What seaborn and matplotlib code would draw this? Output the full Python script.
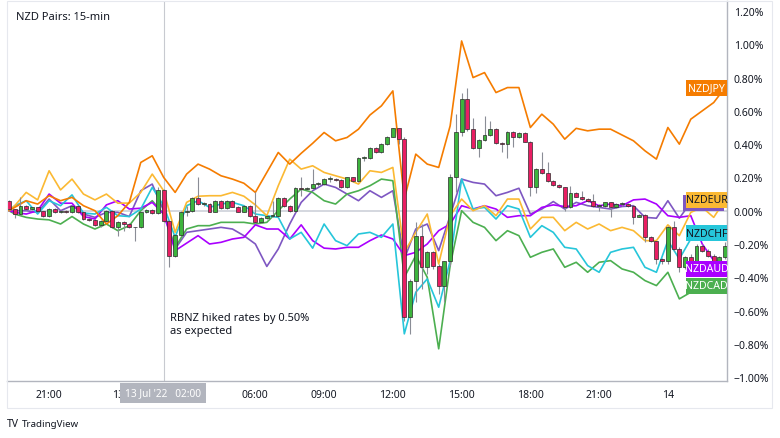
import numpy as np
import pandas as pd
import matplotlib
matplotlib.use("Agg")
import matplotlib.pyplot as plt
import seaborn as sns
from matplotlib.transforms import blended_transform_factory
from matplotlib.patches import Rectangle

sns.set_style("white")
plt.rcParams["font.family"] = ["Noto Sans", "DejaVu Sans"]

# ---------------- data ----------------
# NZDUSD main series, 15-min candles from 12 Jul 19:15 (hours relative to 13 Jul 00:00)
start_hour = -4.75
candle_step = 0.25
first_open = 0.06
usd_close = [0.01, -0.02, 0.03, 0.01, 0.02, 0.00, -0.03, 0.01, -0.01, 0.00,
             -0.01, 0.03, -0.01, -0.05, -0.055, -0.085, -0.06, 0.00, -0.10, -0.065,
             -0.08, -0.10, -0.10, -0.01, 0.005, -0.015, 0.125, -0.06, -0.275, -0.145,
             -0.005, 0.00, 0.075, 0.04, 0.04, -0.005, 0.06, 0.015, 0.06, 0.025,
             -0.005, 0.03, -0.03, -0.07, -0.045, -0.03, -0.03, 0.075, 0.03, 0.00,
             0.135, 0.13, 0.135, 0.16, 0.16, 0.19, 0.19, 0.185, 0.14, 0.20,
             0.18, 0.315, 0.315, 0.375, 0.35, 0.40, 0.445, 0.495, 0.43, -0.64,
             -0.42, -0.15, -0.34, -0.25, -0.33, -0.455, -0.305, 0.20, 0.47, 0.67,
             0.49, 0.375, 0.425, 0.455, 0.49, 0.405, 0.40, 0.475, 0.44, 0.465,
             0.415, 0.14, 0.25, 0.225, 0.18, 0.155, 0.14, 0.02, 0.105, 0.085,
             0.07, 0.06, 0.03, 0.03, 0.05, 0.02, 0.04, 0.04, 0.03, -0.035,
             -0.025, -0.16, -0.185, -0.29, -0.30, -0.10, -0.23, -0.34, -0.28, -0.30,
             -0.21, -0.24, -0.27, -0.31, -0.28, -0.21]
usd_high = [0.065, 0.01, 0.08, 0.035, 0.025, 0.02, 0.00, 0.015, 0.015, 0.005,
            0.005, 0.035, 0.035, -0.005, -0.045, -0.05, -0.055, 0.005, 0.005, -0.06,
            -0.06, -0.075, -0.095, -0.005, 0.01, 0.01, 0.14, 0.13, -0.055, -0.14,
            0.00, 0.03, 0.08, 0.20, 0.05, 0.045, 0.065, 0.065, 0.065, 0.065,
            0.03, 0.035, 0.035, 0.11, -0.04, -0.025, 0.06, 0.08, 0.08, 0.035,
            0.14, 0.20, 0.14, 0.25, 0.17, 0.195, 0.21, 0.195, 0.19, 0.205,
            0.205, 0.32, 0.33, 0.38, 0.38, 0.405, 0.45, 0.50, 0.50, 0.44,
            -0.41, -0.07, -0.08, -0.24, -0.24, -0.32, -0.30, 0.22, 0.58, 0.705,
            0.74, 0.56, 0.43, 0.57, 0.54, 0.50, 0.41, 0.48, 0.48, 0.47,
            0.47, 0.42, 0.255, 0.355, 0.295, 0.185, 0.16, 0.145, 0.15, 0.11,
            0.12, 0.075, 0.10, 0.04, 0.055, 0.055, 0.045, 0.05, 0.045, 0.035,
            -0.02, -0.02, -0.155, -0.18, -0.285, -0.09, -0.06, -0.22, -0.27, -0.26,
            -0.20, -0.20, -0.23, -0.26, -0.27, -0.19]
usd_low = [0.005, -0.045, -0.025, 0.005, 0.005, -0.005, -0.035, -0.035, -0.015, -0.015,
           -0.015, -0.015, -0.015, -0.055, -0.06, -0.09, -0.095, -0.065, -0.105, -0.15,
           -0.12, -0.105, -0.18, -0.105, -0.015, -0.02, -0.02, -0.065, -0.34, -0.28,
           -0.15, -0.03, -0.005, 0.035, 0.03, -0.01, -0.01, 0.01, 0.01, 0.02,
           -0.01, -0.01, -0.035, -0.075, -0.075, -0.05, -0.035, -0.035, 0.025, -0.005,
           -0.005, 0.09, 0.125, 0.13, 0.15, 0.155, 0.17, 0.18, 0.135, 0.135,
           0.175, 0.175, 0.30, 0.31, 0.345, 0.345, 0.395, 0.44, 0.40, -0.66,
           -0.74, -0.55, -0.47, -0.38, -0.35, -0.50, -0.55, -0.33, 0.11, 0.45,
           0.48, 0.37, 0.32, 0.42, 0.45, 0.40, 0.35, 0.315, 0.38, 0.435,
           0.41, 0.09, 0.105, 0.22, 0.175, 0.15, 0.135, 0.00, 0.015, 0.08,
           0.065, 0.055, 0.025, 0.00, 0.025, -0.04, 0.015, 0.03, 0.025, -0.08,
           -0.04, -0.19, -0.19, -0.32, -0.32, -0.32, -0.24, -0.37, -0.35, -0.31,
           -0.31, -0.25, -0.28, -0.32, -0.32, -0.29]

# comparison series (% change), sampled every 30 min
line_hours = [-4.75] + [-4.5 + 0.5 * k for k in range(63)]
nzdjpy = [0.00, 0.02, 0.06, 0.04, 0.09, 0.06, 0.08, 0.03, 0.00, -0.08,
          -0.03, 0.05, 0.29, 0.33, 0.20, 0.11, 0.22, 0.28, 0.25, 0.21,
          0.19, 0.165, 0.11, 0.23, 0.35, 0.28, 0.345, 0.405, 0.47, 0.42,
          0.44, 0.49, 0.575, 0.63, 0.72, 0.07, 0.34, 0.28, 0.26, 0.51,
          1.02, 0.80, 0.83, 0.71, 0.74, 0.74, 0.50, 0.58, 0.52, 0.43,
          0.495, 0.48, 0.49, 0.49, 0.455, 0.42, 0.36, 0.31, 0.50, 0.40,
          0.55, 0.60, 0.65, 0.74]
nzdeur = [0.00, 0.03, 0.11, 0.065, 0.24, 0.125, 0.19, 0.10, 0.065, 0.10,
          0.045, 0.046, 0.11, 0.22, 0.12, -0.13, 0.05, 0.087, 0.09, 0.09,
          0.11, 0.087, 0.035, -0.03, 0.15, 0.31, 0.25, 0.27, 0.23, 0.21,
          0.19, 0.16, 0.24, 0.23, 0.26, -0.25, -0.13, -0.02, -0.32, -0.03,
          0.07, 0.00, 0.03, -0.03, 0.07, 0.07, -0.11, -0.04, -0.04, -0.12,
          -0.07, -0.11, -0.08, -0.12, -0.10, -0.12, -0.18, -0.18, -0.085, -0.15,
          -0.01, 0.02, -0.04, 0.065]
nzdchf = [0.00, 0.03, 0.06, -0.02, 0.06, 0.03, 0.095, -0.014, -0.02, 0.02,
          -0.03, -0.035, 0.01, 0.14, 0.03, -0.16, 0.03, 0.06, 0.02, 0.04,
          0.05, 0.03, -0.02, -0.03, -0.04, -0.17, -0.13, -0.225, -0.08, -0.18,
          -0.21, -0.14, -0.13, -0.16, -0.08, -0.74, -0.49, -0.41, -0.58, -0.30,
          0.19, 0.01, 0.02, -0.05, 0.03, 0.01, -0.16, -0.09, -0.13, -0.22,
          -0.23, -0.33, -0.37, -0.25, -0.23, -0.22, -0.34, -0.37, -0.18, -0.29,
          -0.17, -0.13, -0.13, -0.135]
nzdaud = [0.00, -0.01, -0.02, 0.00, 0.10, 0.045, 0.045, -0.035, -0.05, 0.035,
          0.06, 0.01, 0.015, 0.05, -0.02, -0.24, -0.195, -0.15, -0.20, -0.19,
          -0.17, -0.16, -0.085, -0.11, -0.11, -0.17, -0.085, -0.18, -0.225, -0.23,
          -0.22, -0.22, -0.18, -0.146, -0.17, -0.27, -0.25, -0.20, -0.12, -0.08,
          0.03, 0.01, 0.03, 0.01, -0.04, -0.03, -0.03, 0.02, 0.035, 0.025,
          0.03, 0.06, 0.03, 0.04, 0.03, 0.065, 0.07, 0.04, -0.03, -0.04,
          -0.03, -0.20, -0.30, -0.35]
nzdcad = [0.00, -0.02, -0.04, -0.05, -0.055, -0.08, -0.035, -0.08, -0.11, -0.08,
          -0.12, -0.09, 0.00, 0.06, -0.02, -0.22, -0.11, -0.09, -0.09, -0.07,
          -0.07, -0.07, -0.08, -0.07, 0.00, 0.07, 0.13, 0.11, 0.06, 0.04,
          0.10, 0.12, 0.15, 0.19, 0.18, -0.40, -0.27, -0.40, -0.83, -0.33,
          0.00, -0.07, -0.10, -0.18, -0.12, -0.15, -0.28, -0.25, -0.23, -0.34,
          -0.31, -0.37, -0.31, -0.30, -0.35, -0.37, -0.42, -0.45, -0.37, -0.53,
          -0.49, -0.48, -0.47, -0.45]
nzdgbp = [0.00, 0.00, 0.00, -0.01, 0.07, 0.00, 0.03, -0.02, -0.04, -0.01,
          -0.01, -0.035, 0.12, 0.16, 0.00, -0.23, -0.13, -0.12, -0.11, -0.10,
          -0.11, -0.15, -0.20, -0.335, -0.23, -0.08, 0.05, 0.12, 0.16, 0.14,
          0.10, 0.06, 0.12, 0.08, 0.12, -0.29, -0.11, -0.08, -0.24, -0.03,
          0.19, 0.17, 0.16, 0.09, 0.11, 0.135, -0.02, 0.01, 0.055, 0.01,
          0.05, 0.03, 0.02, 0.01, 0.025, 0.03, -0.04, -0.045, 0.06, -0.045,
          0.05, 0.03, 0.03, 0.045]

y_ticks = [-1.0, -0.8, -0.6, -0.4, -0.2, 0.0, 0.2, 0.4, 0.6, 0.8, 1.0, 1.2]
x_tick_hours = [-3, 0, 6, 9, 12, 15, 18, 21, 24]
x_tick_labels = ["21:00", "13", "06:00", "09:00", "12:00", "15:00", "18:00", "21:00", "14"]
event_hour = 2.0

# ---------------- styling ----------------
pairs = {"NZDGBP": nzdgbp, "NZDCAD": nzdcad, "NZDAUD": nzdaud,
         "NZDCHF": nzdchf, "NZDEUR": nzdeur, "NZDJPY": nzdjpy}
palette = {"NZDJPY": "#F57C00", "NZDEUR": "#FBB933", "NZDCHF": "#26C6DA",
           "NZDAUD": "#AA00FF", "NZDCAD": "#4CAF50", "NZDGBP": "#7E57C2"}
label_text_color = {"NZDJPY": "white", "NZDEUR": "#131722", "NZDCHF": "#131722",
                    "NZDAUD": "white", "NZDCAD": "white", "NZDGBP": "white"}

W, H = 780, 439
fig = plt.figure(figsize=(W / 100, H / 100), dpi=100)
ax = fig.add_axes([7 / W, 1 - 382 / H, 720 / W, 380 / H])

df = pd.concat([pd.DataFrame({"hour": line_hours, "value": v, "pair": k})
                for k, v in pairs.items()], ignore_index=True)
sns.lineplot(data=df, x="hour", y="value", hue="pair", palette=palette,
             hue_order=list(pairs.keys()), estimator=None, sort=False,
             linewidth=1.2, legend=False, ax=ax, zorder=3)

# candles
c = np.array(usd_close)
o = np.r_[first_open, c[:-1]]
hi = np.array(usd_high)
lo = np.array(usd_low)
t = start_hour + candle_step * np.arange(len(c))
body_col = np.where(c >= o, "#3DB43D", "#E91E63")
ax.vlines(t, lo, hi, color="#8A8D96", lw=0.8, zorder=4)
ax.bar(t, np.maximum(np.abs(c - o), 0.005), bottom=np.minimum(o, c), width=0.17,
       color=body_col, edgecolor="#2B2B2B", linewidth=0.5, zorder=5)

# reference lines
ax.axhline(0, color="#D1D4DC", lw=1.3, zorder=1)
ax.axvline(event_hour, color="#C8CAD0", lw=0.8, zorder=1)

ax.set_ylim(-1.0234, 1.2602)
ax.set_xlim(-4.837, 26.58)
ax.yaxis.tick_right()
ax.set_yticks(y_ticks)
ax.set_yticklabels([f"{v:.2f}%".replace("-", "\u2212") for v in y_ticks])
ax.set_xticks(x_tick_hours)
ax.set_xticklabels(x_tick_labels)
ax.tick_params(axis="both", length=0, labelsize=7.5, colors="#131722")
ax.tick_params(axis="y", pad=5)
ax.tick_params(axis="x", pad=6)
ax.set_xlabel("")
ax.set_ylabel("")
for s in ["left", "top"]:
    ax.spines[s].set_visible(False)
for s in ["right", "bottom"]:
    ax.spines[s].set_color("#B2B5BE")
    ax.spines[s].set_linewidth(1.0)

# right-edge value labels
tr = blended_transform_factory(ax.transAxes, ax.transData)
bw = 41 / 720
bh = 16 / 166.4
order = ["NZDGBP", "NZDCAD", "NZDAUD", "NZDCHF", "NZDEUR", "NZDJPY"]
for name in order:
    v = pairs[name][-1]
    x0 = 1 - bw - (3 / 720 if name == "NZDGBP" else 0)
    ax.add_patch(Rectangle((x0, v - bh / 2), bw, bh, transform=tr,
                           facecolor=palette[name], edgecolor="none",
                           clip_on=False, zorder=10))
    if name != "NZDGBP":
        ax.text(1 - bw / 2, v, name, transform=tr, ha="center", va="center",
                fontsize=7.6, color=label_text_color[name], zorder=11, clip_on=False)

# annotation
ax.text(2.27, -0.68, "RBNZ hiked rates by 0.50%\nas expected", fontsize=8,
        color="#131722", ha="left", va="center", linespacing=1.25, zorder=6)

# crosshair time box
fig.text(163 / W, 1 - 394 / H, "13 Jul '22   02:00", ha="center", va="center",
         color="white", fontsize=7.3,
         bbox=dict(boxstyle="square,pad=0.45", fc="#B2B5BE", ec="none"))

# title and branding
fig.text(16 / W, 1 - 18 / H, "NZD Pairs: 15-min", fontsize=8, va="center", color="#131722")
fig.text(7 / W, 1 - 425 / H, "TV", fontsize=7.5, fontweight="bold", va="center", color="#131722")
fig.text(22 / W, 1 - 425 / H, "TradingView", fontsize=7, va="center", color="#131722")

# outer chart frame
fig.patches.append(Rectangle((7 / W, 1 - 409 / H), 765 / W, 407 / H,
                             transform=fig.transFigure, fill=False,
                             edgecolor="#E6E8EE", lw=0.8))

fig.savefig("out.png", dpi=100)
